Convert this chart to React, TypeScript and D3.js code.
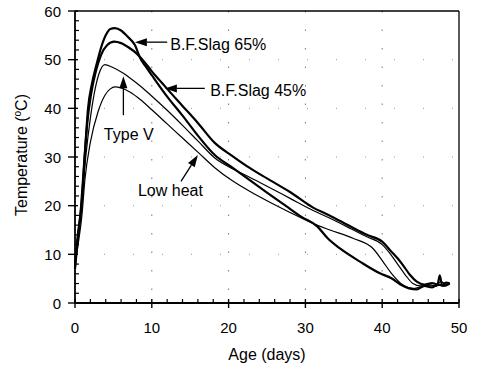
import React from "react";
import * as d3 from "d3";

const slag65Days = [0, 0.3, 0.9, 1.3, 1.7, 2.2, 2.8, 3.4, 4.0, 4.6, 5.2, 6.0, 6.8, 7.8, 8.5, 9.2, 10, 12, 14, 16, 18.2, 20.5, 22.8, 25, 27.5, 29.5, 31.5, 32.9, 34.5, 37.1, 39.7, 41.2, 42.5, 43.5, 44.5, 45.5, 46.5, 47.3, 48, 48.8];
const slag65Temps = [7.5, 13, 21, 31, 40, 45, 49, 52.5, 55, 56.3, 56.5, 56, 54.8, 53, 50.3, 48.6, 46.8, 42.4, 38.5, 34.4, 30.4, 27.8, 25.2, 22.7, 19.9, 17.7, 15.8, 13.3, 11.2, 8.5, 6.1, 5.1, 3.7, 3.0, 2.8, 3.5, 3.2, 3.8, 3.5, 4.0];

const slag45Days = [0, 0.3, 0.8, 1.2, 1.6, 2.1, 2.7, 3.4, 4.2, 5.1, 6, 7, 8, 9, 10, 11, 12, 14, 16, 18.2, 20.5, 22.8, 25, 28, 31, 33, 36, 38, 40, 41, 42, 42.7, 43.6, 44.5, 45.5, 46.5, 47.2, 47.5, 47.8, 48.3, 48.8];
const slag45Temps = [7, 12, 20, 29, 37, 43, 47.5, 51, 53, 53.7, 53.4, 52.5, 51.3, 49.6, 47.6, 45.8, 44, 40.5, 37.0, 32.9, 30.2, 27.7, 25.6, 22.8, 19.6, 18.1, 15.6, 14.0, 12.6, 10.9, 9.2, 7.8, 5.8, 4.4, 3.8, 4.1, 3.8, 5.7, 3.6, 4.2, 4.0];

const typeVDays = [0, 0.4, 0.9, 1.4, 2, 2.5, 3.1, 3.9, 4.8, 6.3, 7.2, 8.5, 9.8, 12, 14, 16, 18.2, 20.5, 22.8, 25, 28, 31, 33.2, 36, 38, 40, 41, 42, 43, 44, 45, 46, 47, 48];
const typeVTemps = [8, 13, 21, 30, 38, 43, 47, 49, 48.5, 47.2, 46.2, 44.6, 42.8, 39.6, 36.5, 33.3, 29.8, 27.6, 25.8, 24.0, 21.5, 19.0, 17.4, 15.2, 13.6, 12.0, 10.2, 8.0, 5.8, 4.0, 3.5, 3.8, 3.5, 3.9];

const lowHeatDays = [0, 0.4, 0.9, 1.3, 2.0, 3.0, 3.9, 4.6, 5.2, 6.0, 7.2, 8.5, 10, 12, 14, 16, 18.2, 20.5, 22.8, 25, 28, 31.5, 33.2, 36.2, 38.8, 40.1, 41.2, 42.7, 44, 45, 46, 47, 47.6, 48.3];
const lowHeatTemps = [8, 12, 18, 25.5, 33, 39.3, 42.7, 44.0, 44.4, 44.2, 43.3, 41.8, 39.7, 36.8, 33.9, 31, 27.8, 25.1, 22.9, 21.0, 18.6, 16, 15, 13.3, 11.2, 8.5, 6.1, 3.7, 3.0, 3.3, 3.6, 3.4, 4.4, 3.8];

const xTicks = [0, 10, 20, 30, 40, 50];
const yTicks = [0, 10, 20, 30, 40, 50, 60];
const xMinor = d3.range(0, 51, 2);
const yMinor = d3.range(0, 61, 2);

const seriesNames = ["B.F.Slag 65%", "B.F.Slag 45%", "Type V", "Low heat"];

const W = 481, H = 368;
const x = d3.scaleLinear().domain([0, 50]).range([75, 459]);
const y = d3.scaleLinear().domain([0, 60]).range([303, 11]);

const series = [
  { days: slag65Days, temps: slag65Temps, w: 2.2 },
  { days: slag45Days, temps: slag45Temps, w: 2.2 },
  { days: typeVDays, temps: typeVTemps, w: 1.2 },
  { days: lowHeatDays, temps: lowHeatTemps, w: 1.2 },
];

// annotations in data units: tip, tail, text anchor
const annots = [
  { tip: [7.8, 53.6], tail: [12.0, 53.6], text: [12.4, 53.1], anchor: "start" },
  { tip: [11.7, 44.1], tail: [16.9, 44.1], text: [17.6, 43.6], anchor: "start" },
  { tip: [6.3, 46.6], tail: [6.3, 38.6], text: [7.0, 34.6], anchor: "middle" },
  { tip: [16.0, 30.4], tail: [13.8, 25.0], text: [8.2, 23.1], anchor: "start" },
];

const line = d3
  .line<[number, number]>()
  .x((d) => x(d[0]))
  .y((d) => y(d[1]))
  .curve(d3.curveMonotoneX);

function Arrow({ tip, tail }: { tip: number[]; tail: number[] }) {
  const tx = x(tip[0]), ty = y(tip[1]);
  const sx = x(tail[0]), sy = y(tail[1]);
  const ang = Math.atan2(ty - sy, tx - sx);
  const L = 12, hw = 4;
  const bx = tx - L * Math.cos(ang), by = ty - L * Math.sin(ang);
  const px = -Math.sin(ang) * hw, py = Math.cos(ang) * hw;
  return (
    <g>
      <line x1={sx} y1={sy} x2={bx} y2={by} stroke="#000" strokeWidth={1.3} />
      <polygon points={`${tx},${ty} ${bx + px},${by + py} ${bx - px},${by - py}`} fill="#000" />
    </g>
  );
}

export default function App() {
  const font = "'Liberation Sans', Arial, Helvetica, sans-serif";
  return (
    <svg width={W} height={H} style={{ position: "absolute", left: 0, top: 0, background: "#fff" }} fontFamily={font}>
      <rect x={0} y={0} width={W} height={H} fill="#fff" />
      {/* sparse dotted gridlines */}
      {xTicks.slice(1, -1).map((t) => (
        <line key={"gx" + t} x1={x(t)} x2={x(t)} y1={y(60)} y2={y(0)} stroke="#777" strokeWidth={1} strokeDasharray="1.5 17" />
      ))}
      {yTicks.slice(1, -1).map((t) => (
        <line key={"gy" + t} x1={x(0)} x2={x(50)} y1={y(t)} y2={y(t)} stroke="#999" strokeWidth={1} strokeDasharray="1 28" />
      ))}
      {/* frame */}
      <line x1={x(0)} x2={x(50)} y1={y(60)} y2={y(60)} stroke="#000" strokeWidth={1.3} />
      <line x1={x(50)} x2={x(50)} y1={y(60)} y2={y(0)} stroke="#000" strokeWidth={1.3} />
      <line x1={x(0)} x2={x(0)} y1={y(60)} y2={y(0)} stroke="#000" strokeWidth={1.8} />
      <line x1={x(0)} x2={x(50)} y1={y(0)} y2={y(0)} stroke="#000" strokeWidth={1.8} />
      {/* minor ticks */}
      {xMinor.filter((t) => t % 10 !== 0).map((t) => (
        <line key={"mx" + t} x1={x(t)} x2={x(t)} y1={y(0)} y2={y(0) - 4} stroke="#000" strokeWidth={1.2} />
      ))}
      {yMinor.filter((t) => t % 10 !== 0).map((t) => (
        <line key={"my" + t} x1={x(0)} x2={x(0) + 4} y1={y(t)} y2={y(t)} stroke="#000" strokeWidth={1.2} />
      ))}
      {/* major ticks */}
      {xTicks.map((t) => (
        <line key={"tx" + t} x1={x(t)} x2={x(t)} y1={y(0) - 4} y2={y(0) + 5} stroke="#000" strokeWidth={1.4} />
      ))}
      {yTicks.map((t) => (
        <line key={"ty" + t} x1={x(0) - 7} x2={x(0) + 3} y1={y(t)} y2={y(t)} stroke="#000" strokeWidth={1.4} />
      ))}
      {/* tick labels */}
      {xTicks.map((t) => (
        <text key={"lx" + t} x={x(t)} y={y(0) + 30} textAnchor="middle" fontSize={15} fill="#000">{t}</text>
      ))}
      {yTicks.map((t) => (
        <text key={"ly" + t} x={61} y={y(t) + 5.5} textAnchor="end" fontSize={15} fill="#000">{t}</text>
      ))}
      {/* axis titles */}
      <text x={x(25)} y={360} textAnchor="middle" fontSize={16} fill="#000">Age (days)</text>
      <text transform={`translate(27,155) rotate(-90)`} textAnchor="middle" fontSize={16} fill="#000">
        Temperature (<tspan fontSize={10} dy={-6}>o</tspan><tspan dy={6}>C)</tspan>
      </text>
      {/* curves */}
      {series.map((s, i) => (
        <path
          key={"s" + i}
          d={line(s.days.map((d, j) => [d, s.temps[j]] as [number, number])) || ""}
          fill="none"
          stroke="#000"
          strokeWidth={s.w}
          strokeLinejoin="round"
        />
      ))}
      {/* annotations */}
      {annots.map((a, i) => (
        <g key={"a" + i}>
          <Arrow tip={a.tip} tail={a.tail} />
          <text x={x(a.text[0])} y={y(a.text[1]) + 5.5} textAnchor={a.anchor as any} fontSize={16} fill="#000">
            {seriesNames[i]}
          </text>
        </g>
      ))}
    </svg>
  );
}
